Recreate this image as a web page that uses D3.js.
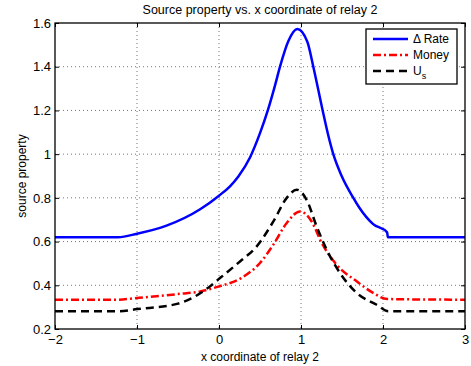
<!DOCTYPE html>
<html>
<head>
<meta charset="utf-8">
<script src="https://cdn.jsdelivr.net/npm/d3@7"></script>
<style>
    body { margin: 0; background: #fff; }
    svg { font-family: "Liberation Sans", Arial, sans-serif; }
    .grid line { stroke: #777; stroke-width: 1; stroke-dasharray: 1,3; }
    .axis path, .axis line { stroke: #000; }
    .axis text { font-size: 13px; fill: #000; }
    .line { fill: none; stroke-width: 2.5; }
</style>
</head>
<body>
<div id="chart"></div>
<script>
// values
var rateX = [-2, -1.23, -1, -0.64, -0.23, 0, 0.134, 0.236, 0.378, 0.5, 0.595, 0.68, 0.744, 0.845, 0.955,
             1.077, 1.15, 1.264, 1.33, 1.394, 1.496, 1.638, 1.712, 1.88, 2.05, 2.06, 3];
var rateY = [0.62, 0.62, 0.636, 0.673, 0.748, 0.81, 0.853, 0.898, 0.985, 1.096, 1.2, 1.31, 1.4, 1.516, 1.572,
             1.514, 1.4, 1.2, 1.09, 1.0, 0.9, 0.80, 0.755, 0.68, 0.642, 0.62, 0.62];

var moneyX = [-2, -1.25, -1, -0.5, -0.23, 0, 0.27, 0.5, 0.663, 0.826, 0.988,
              1.13, 1.252, 1.435, 1.679, 1.88, 2.05, 3];
var moneyY = [0.334, 0.334, 0.342, 0.36, 0.372, 0.395, 0.433, 0.502, 0.586, 0.685, 0.738,
              0.692, 0.594, 0.494, 0.418, 0.365, 0.337, 0.334];

var usX = [-2, -1.23, -1, -0.5, -0.11, 0.012, 0.256, 0.46, 0.663, 0.826, 0.948,
           1.07, 1.19, 1.313, 1.476, 1.679, 1.923, 2.065, 3];
var usY = [0.281, 0.281, 0.291, 0.316, 0.395, 0.433, 0.509, 0.578, 0.692, 0.80, 0.837,
           0.79, 0.67, 0.563, 0.456, 0.365, 0.311, 0.281, 0.281];

var xTicks = [-2, -1, 0, 1, 2, 3];
var yTicks = [0.2, 0.4, 0.6, 0.8, 1, 1.2, 1.4, 1.6];

var seriesNames = ["\u0394 Rate", "Money", "U"];

function zip (xs, ys) {
    return xs.map(function (x, i) { return {x: x, y: ys[i]}; });
}

var series = [
    {name: seriesNames[0], data: zip(rateX, rateY), color: "#0000ff", dash: null},
    {name: seriesNames[1], data: zip(moneyX, moneyY), color: "#ff0000", dash: "8,3,2,3"},
    {name: seriesNames[2], data: zip(usX, usY), color: "#000000", dash: "8,5", sub: "s"}
];

// Set the dimensions of the canvas / graph
var W = 471, H = 366;
var margin = {top: 23, right: 6, bottom: 37, left: 55},
    width = W - margin.left - margin.right,
    height = H - margin.top - margin.bottom;

var x = d3.scaleLinear().domain([-2, 3]).range([0, width]);
var y = d3.scaleLinear().domain([0.2, 1.6]).range([height, 0]);

var svg = d3.select("#chart")
    .append("svg")
        .attr("width", W)
        .attr("height", H)
    .append("g")
        .attr("transform", "translate(" + margin.left + "," + margin.top + ")");

// dotted grid
var grid = svg.append("g").attr("class", "grid");
grid.selectAll("line.v")
    .data(xTicks.slice(1, -1))
    .enter().append("line")
    .attr("x1", x).attr("x2", x)
    .attr("y1", 0).attr("y2", height);
grid.selectAll("line.h")
    .data(yTicks.slice(1, -1))
    .enter().append("line")
    .attr("y1", y).attr("y2", y)
    .attr("x1", 0).attr("x2", width);

// Define the line
var valueline = d3.line()
    .curve(d3.curveMonotoneX)
    .x(function(d) { return x(d.x); })
    .y(function(d) { return y(d.y); });

svg.selectAll("path.line")
    .data(series)
    .enter().append("path")
    .attr("class", "line")
    .attr("d", function(d) { return valueline(d.data); })
    .attr("stroke", function(d) { return d.color; })
    .attr("stroke-dasharray", function(d) { return d.dash; });

// axes, ticks pointing inside on all four sides
var fmt = function(d) { return d3.format("~g")(d).replace("-", "\u2212"); };

svg.append("g")
    .attr("class", "x axis")
    .attr("transform", "translate(0," + height + ")")
    .call(d3.axisBottom(x).tickValues(xTicks).tickSizeInner(-4).tickSizeOuter(0).tickPadding(6).tickFormat(fmt));

svg.append("g")
    .attr("class", "x axis")
    .call(d3.axisTop(x).tickValues(xTicks).tickSizeInner(-4).tickSizeOuter(0).tickFormat(""));

svg.append("g")
    .attr("class", "y axis")
    .call(d3.axisLeft(y).tickValues(yTicks).tickSizeInner(-4).tickSizeOuter(0).tickPadding(4).tickFormat(fmt));

svg.append("g")
    .attr("class", "y axis")
    .attr("transform", "translate(" + width + ",0)")
    .call(d3.axisRight(y).tickValues(yTicks).tickSizeInner(-4).tickSizeOuter(0).tickFormat(""));

svg.selectAll(".axis path").remove();

svg.append("rect")
    .attr("width", width)
    .attr("height", height)
    .attr("fill", "none")
    .attr("stroke", "#000")
    .attr("stroke-width", 1.3);

// titles
svg.append("text")
    .attr("x", width / 2)
    .attr("y", -9)
    .attr("text-anchor", "middle")
    .style("font-size", "12.5px")
    .text("Source property vs. x coordinate of relay 2");

svg.append("text")
    .attr("x", width / 2)
    .attr("y", height + 32)
    .attr("text-anchor", "middle")
    .style("font-size", "12px")
    .text("x coordinate of relay 2");

svg.append("text")
    .attr("transform", "translate(-29," + (height / 2) + ") rotate(-90)")
    .attr("text-anchor", "middle")
    .style("font-size", "12px")
    .text("source property");

// legend
var legend = svg.append("g")
    .attr("transform", "translate(" + (width - 99) + ",6)");

legend.append("rect")
    .attr("width", 91)
    .attr("height", 55)
    .attr("fill", "#fff")
    .attr("stroke", "#000")
    .attr("stroke-width", 1.3);

var item = legend.selectAll("g.item")
    .data(series)
    .enter().append("g")
    .attr("transform", function(d, i) { return "translate(0," + (10 + i * 16) + ")"; });

item.append("line")
    .attr("x1", 7).attr("x2", 42)
    .attr("stroke", function(d) { return d.color; })
    .attr("stroke-width", 2.5)
    .attr("stroke-dasharray", function(d) { return d.dash; });

var label = item.append("text")
    .attr("x", 47)
    .attr("y", 4)
    .style("font-size", "12px")
    .text(function(d) { return d.name; });

label.filter(function(d) { return d.sub; })
    .append("tspan")
    .attr("dy", 4)
    .style("font-size", "9px")
    .text(function(d) { return d.sub; });
</script>
</body>
</html>
